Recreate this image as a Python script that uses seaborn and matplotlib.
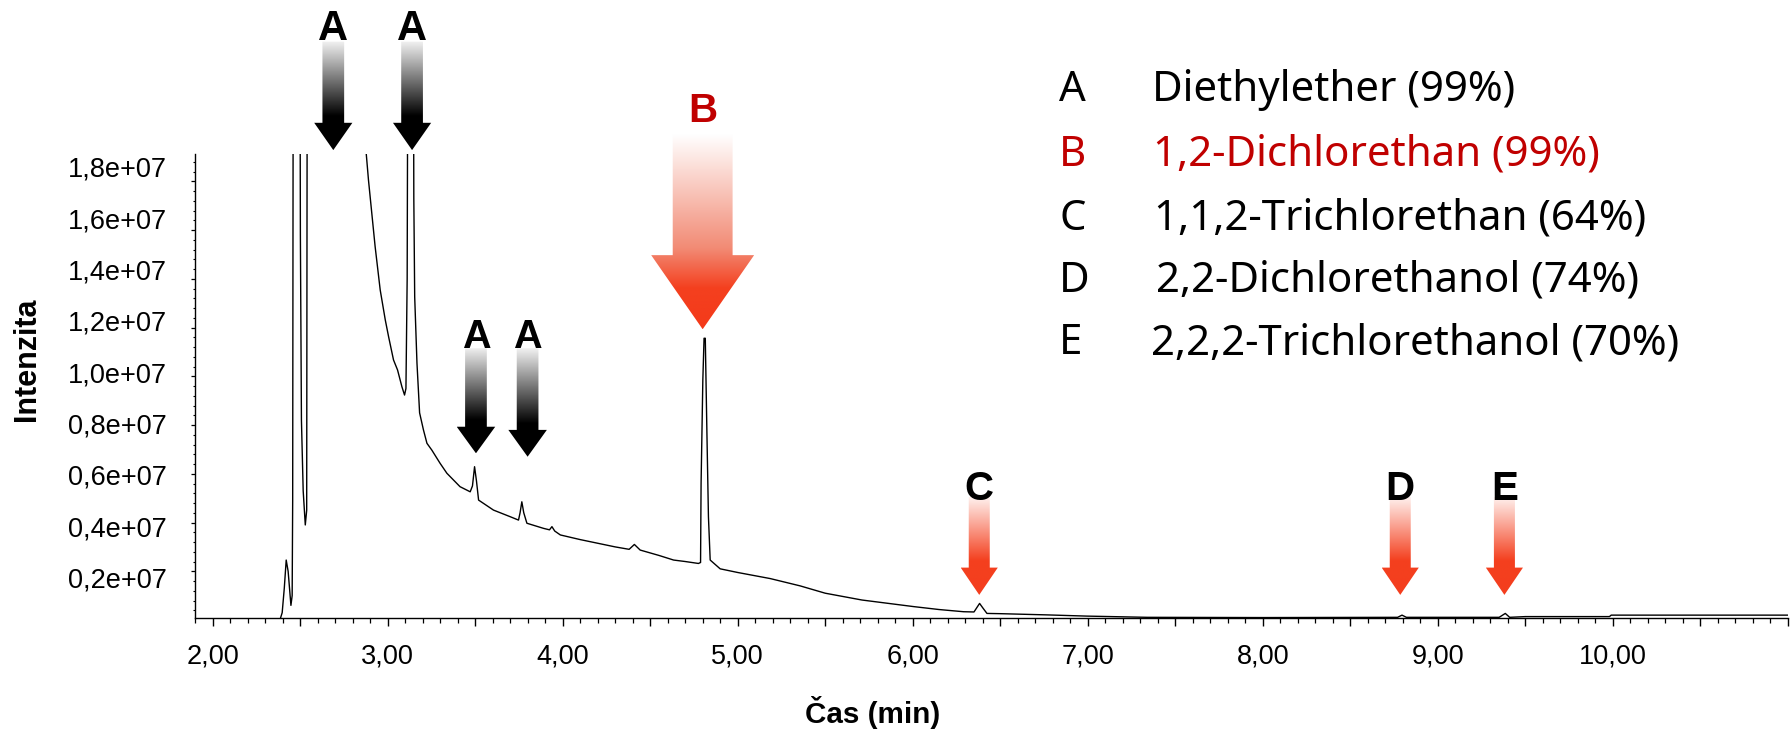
import numpy as np
import pandas as pd
import matplotlib
matplotlib.use("Agg")
import matplotlib.pyplot as plt
import seaborn as sns
from matplotlib.patches import Polygon
from matplotlib.colors import LinearSegmentedColormap
from matplotlib.ticker import FixedLocator, FuncFormatter, MultipleLocator
from matplotlib.transforms import ScaledTranslation

# ---------------- data ----------------
time_min = [2.385, 2.398, 2.410, 2.421, 2.432, 2.448, 2.455, 2.458, 2.462, 2.498,
            2.502, 2.508, 2.518, 2.530, 2.538, 2.542, 2.800, 2.860, 2.878, 2.891,
            2.929, 2.958, 2.987, 3.006, 3.034, 3.057, 3.082, 3.097, 3.105, 3.112,
            3.118, 3.146, 3.150, 3.155, 3.168, 3.183, 3.205, 3.225, 3.253, 3.300,
            3.339, 3.414, 3.472, 3.485, 3.497, 3.508, 3.520, 3.605, 3.700, 3.748,
            3.757, 3.767, 3.778, 3.796, 3.891, 3.925, 3.939, 3.955, 3.987, 4.100,
            4.200, 4.300, 4.380, 4.410, 4.443, 4.550, 4.634, 4.700, 4.776, 4.788,
            4.791, 4.801, 4.808, 4.815, 4.824, 4.833, 4.843, 4.900, 5.000, 5.186,
            5.357, 5.500, 5.710, 6.005, 6.150, 6.290, 6.350, 6.370, 6.382, 6.400,
            6.424, 6.500, 6.767, 6.995, 7.340, 8.000, 8.770, 8.795, 8.820, 9.350,
            9.385, 9.410, 9.500, 9.980, 9.990, 11.000]

intensity_e7 = [0.0, 0.03, 0.13, 0.246, 0.20, 0.06, 0.10, 0.49, 3.0, 3.0,
                1.58, 0.82, 0.53, 0.39, 0.45, 3.0, 3.0, 2.10, 1.915, 1.805,
                1.532, 1.354, 1.231, 1.162, 1.067, 1.026, 0.957, 0.923, 0.95, 1.40,
                3.0, 3.0, 1.73, 1.326, 1.054, 0.85, 0.78, 0.725, 0.697, 0.643,
                0.602, 0.547, 0.526, 0.55, 0.629, 0.57, 0.492, 0.451, 0.424, 0.41,
                0.44, 0.485, 0.44, 0.397, 0.376, 0.37, 0.383, 0.365, 0.349, 0.33,
                0.315, 0.30, 0.29, 0.31, 0.287, 0.265, 0.246, 0.24, 0.232, 0.236,
                0.56, 0.985, 1.156, 1.156, 0.78, 0.424, 0.246, 0.21, 0.195, 0.17,
                0.14, 0.11, 0.082, 0.055, 0.043, 0.034, 0.033, 0.055, 0.068, 0.05,
                0.027, 0.026, 0.021, 0.016, 0.011, 0.01, 0.011, 0.02, 0.011, 0.011,
                0.027, 0.011, 0.014, 0.014, 0.02, 0.02]

peak_labels = ["A", "A", "A", "A", "B", "C", "D", "E"]
peak_times = [2.69, 3.14, 3.505, 3.80, 4.80, 6.38, 8.785, 9.38]

compound_codes = ["A", "B", "C", "D", "E"]
compound_names = ["Diethylether", "1,2-Dichlorethan", "1,1,2-Trichlorethan",
                  "2,2-Dichlorethanol", "2,2,2-Trichlorethanol"]
match_pct = [99, 99, 64, 74, 70]

x_major_ticks = [2.0 + 0.5 * i for i in range(19)]
y_major_ticks_e7 = [0.2, 0.4, 0.6, 0.8, 1.0, 1.2, 1.4, 1.6, 1.8]

# ---------------- style ----------------
sns.set_theme(style="ticks")
plt.rcParams["font.family"] = ["Liberation Sans", "DejaVu Sans"]
plt.rcParams["text.color"] = "black"
plt.rcParams["axes.edgecolor"] = "black"
plt.rcParams["xtick.color"] = "black"
plt.rcParams["ytick.color"] = "black"

W, H = 1792, 731
fig = plt.figure(figsize=(W / 100, H / 100), dpi=100)
ax = fig.add_axes([195 / W, (H - 618.3) / H, (1788 - 195) / W, (618.3 - 154) / H])

df = pd.DataFrame({"time": time_min,
                   "intensity": np.array(intensity_e7) * 1e7})
sns.lineplot(data=df, x="time", y="intensity", ax=ax, color="black",
             linewidth=1.0, errorbar=None)


# ---------------- gradient arrows ----------------
def gradient_arrow(ax, xc, y_tip, y_base, y_top, sw, hw, stops, z=6):
    verts = [(xc - sw, y_top), (xc + sw, y_top), (xc + sw, y_base),
             (xc + hw, y_base), (xc, y_tip), (xc - hw, y_base),
             (xc - sw, y_base)]
    poly = Polygon(verts, closed=True, facecolor="none", edgecolor="none",
                   transform=ax.transData)
    cmap = LinearSegmentedColormap.from_list("g", stops)
    grad = np.linspace(0, 1, 256).reshape(-1, 1)
    im = ax.imshow(grad, cmap=cmap, aspect="auto", origin="upper",
                   extent=[xc - hw, xc + hw, y_tip, y_top],
                   interpolation="bilinear", zorder=z)
    im.set_clip_box(ax.figure.bbox)
    im.set_clip_path(poly)


def frac(y_top, y_base, y_tip):
    return (y_top - y_base) / (y_top - y_tip)


E7 = 1e7
# geometry per arrow: y_tip, y_base, y_top (units of 1e7), shaft half width,
# head half width, letter baseline, font size
geom = {
    0: (1.928, 2.040, 2.373, 0.062, 0.109, 2.379, 30),
    1: (1.928, 2.040, 2.373, 0.062, 0.109, 2.379, 30),
    2: (0.684, 0.793, 1.115, 0.062, 0.110, 1.118, 28.5),
    3: (0.670, 0.780, 1.115, 0.062, 0.110, 1.118, 28.5),
    4: (1.193, 1.497, 1.990, 0.171, 0.294, 2.043, 29),
    5: (0.103, 0.215, 0.505, 0.060, 0.106, 0.494, 29),
    6: (0.103, 0.215, 0.505, 0.060, 0.106, 0.494, 29),
    7: (0.103, 0.215, 0.505, 0.060, 0.106, 0.494, 29),
}

for i, (lab, t) in enumerate(zip(peak_labels, peak_times)):
    y_tip, y_base, y_top, sw, hw, y_txt, fs = geom[i]
    f = frac(y_top, y_base, y_tip)
    if lab == "A":
        stops = [(0.0, "#f2f2f2"), (f * 0.92, "#000000"), (1.0, "#000000")]
        tcol = "black"
    elif lab == "B":
        stops = [(0.0, "#ffffff"), (f * 0.95, "#f28a74"), (f + (1 - f) * 0.45, "#f4401f"),
                 (1.0, "#f43a1a")]
        tcol = "#c00000"
    else:
        stops = [(0.0, "#fff1ee"), (f * 0.9, "#f4401f"), (1.0, "#f43e1e")]
        tcol = "black"
    gradient_arrow(ax, t, y_tip * E7, y_base * E7, y_top * E7, sw, hw, stops)
    ax.text(t, y_txt * E7, lab, ha="center", va="baseline", fontsize=fs,
            fontweight="bold", color=tcol, clip_on=False, zorder=7)

# ---------------- axes formatting ----------------
ax.set_xlim(1.90, 11.0)
ax.set_ylim(0.007e7, 1.912e7)

ax.xaxis.set_major_locator(FixedLocator(x_major_ticks))
ax.xaxis.set_major_formatter(FuncFormatter(
    lambda v, p: (f"{v:.2f}".replace(".", ",") if abs(v - round(v)) < 1e-6 and v < 10.5 else "")))
ax.xaxis.set_minor_locator(MultipleLocator(0.1))

ax.yaxis.set_major_locator(FixedLocator([v * E7 for v in y_major_ticks_e7]))
ax.yaxis.set_major_formatter(FuncFormatter(
    lambda v, p: f"{v / E7:.1f}".replace(".", ",") + "e+07"))
ax.yaxis.set_minor_locator(MultipleLocator(0.04e7))

ax.tick_params(axis="x", which="major", length=5.8, width=1.0, pad=12.5,
               labelsize=19.5, direction="out")
ax.tick_params(axis="x", which="minor", length=3.4, width=0.9, direction="out")
ax.tick_params(axis="y", which="major", length=3.1, width=0.9, pad=17,
               labelsize=19.5, direction="out")
ax.tick_params(axis="y", which="minor", length=1.8, width=0.8, direction="out")

for s in ["top", "right"]:
    ax.spines[s].set_visible(False)
for s in ["left", "bottom"]:
    ax.spines[s].set_linewidth(1.0)
    ax.spines[s].set_color("black")

ax.set_xlabel("")
ax.set_ylabel("")
fig.text(873 / W, (H - 723) / H, "Čas (min)", ha="center", va="baseline",
         fontsize=21.3, fontweight="bold")
fig.text(27 / W, (H - 359) / H, "Intenzita", ha="center", va="center",
         rotation=90, fontsize=22, fontweight="bold")

# ---------------- compound list ----------------
row_base = [100.7, 166.0, 230.0, 291.6, 354.5]
name_x = [1152, 1153, 1154, 1156, 1151]
for code, name, pct, yb, nx in zip(compound_codes, compound_names, match_pct,
                                   row_base, name_x):
    col = "#c00000" if code == "B" else "black"
    fig.text(1059 / W, (H - yb) / H, code, ha="left", va="baseline",
             fontsize=30.2, color=col, family=["Noto Sans", "DejaVu Sans"])
    fig.text(nx / W, (H - yb) / H, f"{name} ({pct}%)", ha="left", va="baseline",
             fontsize=30.2, color=col, family=["Noto Sans", "DejaVu Sans"])

# y tick labels in the source image sit slightly spread relative to the tick marks
fig.canvas.draw()
for k, tick in enumerate(ax.yaxis.get_major_ticks()):
    dy_px = 6.3 - 2.59 * k  # positive = downward
    tick.label1.set_transform(tick.label1.get_transform() +
                              ScaledTranslation(0, -dy_px / 100, fig.dpi_scale_trans))

fig.savefig("out.png", dpi=100, facecolor="white")
